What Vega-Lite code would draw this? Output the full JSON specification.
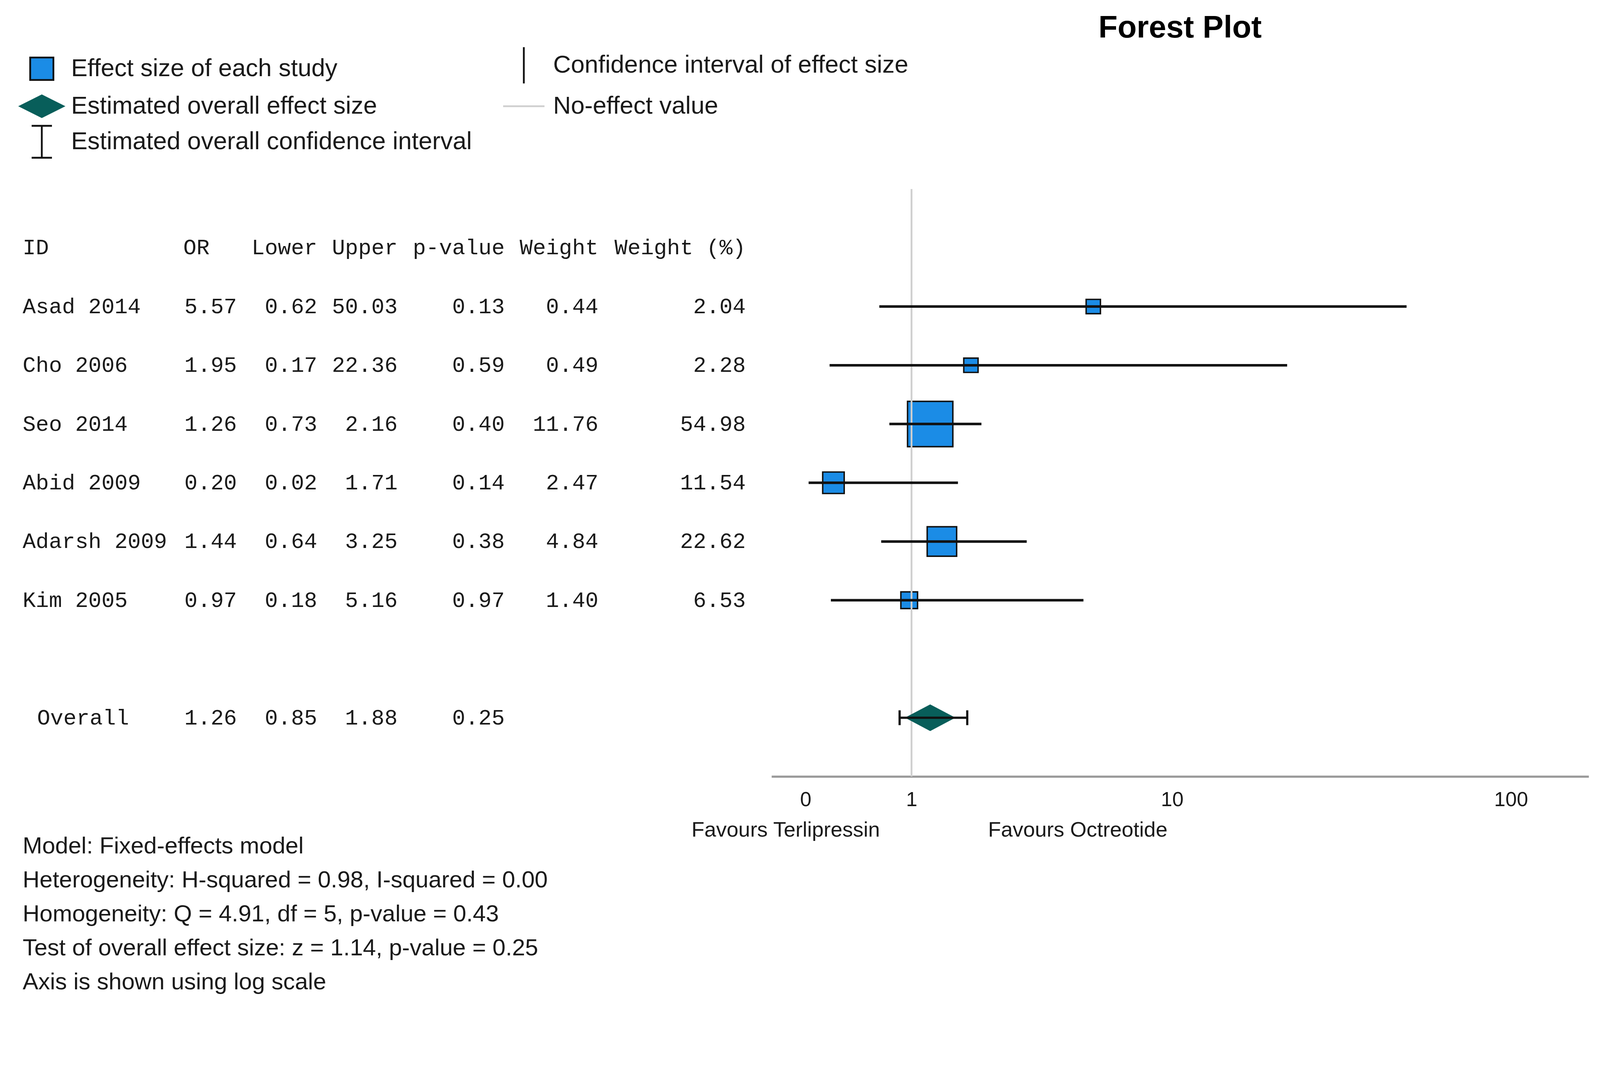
{
  "$schema": "https://vega.github.io/schema/vega-lite/v6.json",
  "background": "white",
  "padding": {"left": 58, "top": 31, "right": 12, "bottom": 0},
  "data": {"values": [
    {"study": "Asad 2014", "or": 5.57, "lower": 0.62, "upper": 50.03, "p": 0.13, "w": 0.44, "wpct": 2.04},
    {"study": "Cho 2006", "or": 1.95, "lower": 0.17, "upper": 22.36, "p": 0.59, "w": 0.49, "wpct": 2.28},
    {"study": "Seo 2014", "or": 1.26, "lower": 0.73, "upper": 2.16, "p": 0.40, "w": 11.76, "wpct": 54.98},
    {"study": "Abid 2009", "or": 0.20, "lower": 0.02, "upper": 1.71, "p": 0.14, "w": 2.47, "wpct": 11.54},
    {"study": "Adarsh 2009", "or": 1.44, "lower": 0.64, "upper": 3.25, "p": 0.38, "w": 4.84, "wpct": 22.62},
    {"study": "Kim 2005", "or": 0.97, "lower": 0.18, "upper": 5.16, "p": 0.97, "w": 1.40, "wpct": 6.53},
    {"study": "Overall", "or": 1.26, "lower": 0.85, "upper": 1.88, "p": 0.25}
  ]},
  "title": {
    "text": [
      "Model: Fixed-effects model",
      "Heterogeneity: H-squared = 0.98, I-squared = 0.00",
      "Homogeneity: Q = 4.91, df = 5, p-value = 0.43",
      "Test of overall effect size: z = 1.14, p-value = 0.25",
      "Axis is shown using log scale"
    ],
    "orient": "bottom", "anchor": "start", "frame": "bounds",
    "font": "Liberation Sans", "fontSize": 60, "fontWeight": "normal", "color": "#1a1a1a",
    "lineHeight": 87, "baseline": "top", "offset": -15
  },
  "bounds": "flush",
  "spacing": 66,
  "hconcat": [
    {
      "width": 1851,
      "height": 1504,
      "layer": [
        {
          "data": {"values": [
            {"item": "Effect size of each study"},
            {"item": "Estimated overall effect size"},
            {"item": "Estimated overall confidence interval"},
            {"item": "Confidence interval of effect size"},
            {"item": "No-effect value"}
          ]},
          "transform": [{"filter": "false"}],
          "mark": {"type": "point", "filled": true, "opacity": 1},
          "encoding": {
            "shape": {"field": "item", "type": "nominal", "legend": {"title": null},
              "scale": {"domain": ["Effect size of each study", "Estimated overall effect size", "Estimated overall confidence interval", "Confidence interval of effect size", "No-effect value"],
                "range": ["M-0.64,-0.62H0.64V0.62H-0.64Z", "M-1.3,0L0,-0.65L1.3,0L0,0.65Z", "M-0.56,-0.88H0.56M0,-0.88V0.88M-0.56,0.88H0.56", "M0,-1V1", "M-1.14,0H1.14"]}},
            "fill": {"field": "item", "type": "nominal", "legend": {"title": null},
              "scale": {"domain": ["Effect size of each study", "Estimated overall effect size", "Estimated overall confidence interval", "Confidence interval of effect size", "No-effect value"],
                "range": ["#1b8ce6", "#085e5a", "transparent", "transparent", "transparent"]}},
            "stroke": {"field": "item", "type": "nominal", "legend": {"title": null},
              "scale": {"domain": ["Effect size of each study", "Estimated overall effect size", "Estimated overall confidence interval", "Confidence interval of effect size", "No-effect value"],
                "range": ["#111111", "transparent", "#111111", "#111111", "#cfcfcf"]}}
          }
        },
        {
          "data": {"values": [{}]},
          "mark": {"type": "text", "text": "ID", "align": "left"},
          "encoding": {
            "x": {"datum": 0, "type": "quantitative", "scale": {"domain": [0, 54], "nice": false, "zero": false}, "axis": null},
            "y": {"datum": "ID", "type": "nominal", "axis": null,
              "scale": {"type": "point", "padding": 1, "domain": ["ID", "Asad 2014", "Cho 2006", "Seo 2014", "Abid 2009", "Adarsh 2009", "Kim 2005", "gap", "Overall"]}}
          }
        },
        {
          "data": {"values": [{}]},
          "mark": {"type": "text", "text": "OR", "align": "left"},
          "encoding": {"x": {"datum": 12, "type": "quantitative", "axis": null}, "y": {"datum": "ID", "type": "nominal", "axis": null}}
        },
        {
          "data": {"values": [{}]},
          "mark": {"type": "text", "text": "Lower", "align": "right"},
          "encoding": {"x": {"datum": 22, "type": "quantitative", "axis": null}, "y": {"datum": "ID", "type": "nominal", "axis": null}}
        },
        {
          "data": {"values": [{}]},
          "mark": {"type": "text", "text": "Upper", "align": "right"},
          "encoding": {"x": {"datum": 28, "type": "quantitative", "axis": null}, "y": {"datum": "ID", "type": "nominal", "axis": null}}
        },
        {
          "data": {"values": [{}]},
          "mark": {"type": "text", "text": "p-value", "align": "right"},
          "encoding": {"x": {"datum": 36, "type": "quantitative", "axis": null}, "y": {"datum": "ID", "type": "nominal", "axis": null}}
        },
        {
          "data": {"values": [{}]},
          "mark": {"type": "text", "text": "Weight", "align": "right"},
          "encoding": {"x": {"datum": 43, "type": "quantitative", "axis": null}, "y": {"datum": "ID", "type": "nominal", "axis": null}}
        },
        {
          "data": {"values": [{}]},
          "mark": {"type": "text", "text": "Weight (%)", "align": "right"},
          "encoding": {"x": {"datum": 54, "type": "quantitative", "axis": null}, "y": {"datum": "ID", "type": "nominal", "axis": null}}
        },
        {
          "transform": [{"filter": "datum.study !== 'Overall'"}],
          "mark": {"type": "text", "align": "left"},
          "encoding": {"x": {"datum": 0, "type": "quantitative", "axis": null}, "y": {"field": "study", "type": "nominal", "axis": null}, "text": {"field": "study"}}
        },
        {
          "transform": [{"filter": "datum.study === 'Overall'"}],
          "mark": {"type": "text", "align": "left", "dx": 37},
          "encoding": {"x": {"datum": 0, "type": "quantitative", "axis": null}, "y": {"field": "study", "type": "nominal", "axis": null}, "text": {"field": "study"}}
        },
        {
          "mark": {"type": "text", "align": "right"},
          "encoding": {"x": {"datum": 16, "type": "quantitative", "axis": null}, "y": {"field": "study", "type": "nominal", "axis": null}, "text": {"field": "or", "type": "quantitative", "format": ".2f"}}
        },
        {
          "mark": {"type": "text", "align": "right"},
          "encoding": {"x": {"datum": 22, "type": "quantitative", "axis": null}, "y": {"field": "study", "type": "nominal", "axis": null}, "text": {"field": "lower", "type": "quantitative", "format": ".2f"}}
        },
        {
          "mark": {"type": "text", "align": "right"},
          "encoding": {"x": {"datum": 28, "type": "quantitative", "axis": null}, "y": {"field": "study", "type": "nominal", "axis": null}, "text": {"field": "upper", "type": "quantitative", "format": ".2f"}}
        },
        {
          "mark": {"type": "text", "align": "right"},
          "encoding": {"x": {"datum": 36, "type": "quantitative", "axis": null}, "y": {"field": "study", "type": "nominal", "axis": null}, "text": {"field": "p", "type": "quantitative", "format": ".2f"}}
        },
        {
          "transform": [{"filter": "isValid(datum.w)"}],
          "mark": {"type": "text", "align": "right"},
          "encoding": {"x": {"datum": 43, "type": "quantitative", "axis": null}, "y": {"field": "study", "type": "nominal", "axis": null}, "text": {"field": "w", "type": "quantitative", "format": ".2f"}}
        },
        {
          "transform": [{"filter": "isValid(datum.wpct)"}],
          "mark": {"type": "text", "align": "right"},
          "encoding": {"x": {"datum": 54, "type": "quantitative", "axis": null}, "y": {"field": "study", "type": "nominal", "axis": null}, "text": {"field": "wpct", "type": "quantitative", "format": ".2f"}}
        }
      ]
    },
    {
      "width": 2092,
      "height": 1504,
      "title": {"text": "Forest Plot", "font": "Liberation Sans", "fontSize": 80, "fontWeight": "bold", "color": "#000000", "anchor": "middle", "frame": "group", "baseline": "alphabetic", "offset": 306},
      "layer": [
        {
          "transform": [{"filter": "datum.study !== 'Overall'"}],
          "mark": {"type": "point", "shape": "square", "filled": true, "fill": "#1b8ce6", "stroke": "#111111", "strokeWidth": 3.7, "opacity": 1},
          "encoding": {
            "x": {"field": "or", "type": "quantitative", "title": null,
              "scale": {"type": "symlog", "constant": 1, "domain": [-0.25, 167], "nice": false, "zero": false},
              "axis": {"title": null, "values": [0, 1, 10, 100], "format": "d", "grid": false, "ticks": false, "tickSize": 0,
                "domainColor": "#9a9a9a", "domainWidth": 5.6, "labelFont": "Liberation Sans", "labelFontSize": 52, "labelColor": "#1a1a1a",
                "labelPadding": 34, "labelFlush": false, "labelOverlap": false}},
            "y": {"field": "study", "type": "nominal", "axis": null,
              "scale": {"type": "point", "padding": 1, "domain": ["ID", "Asad 2014", "Cho 2006", "Seo 2014", "Abid 2009", "Adarsh 2009", "Kim 2005", "gap", "Overall"]}},
            "size": {"field": "wpct", "type": "quantitative", "legend": null,
              "scale": {"domain": [4.5, 55], "range": [1340, 13460], "clamp": true, "zero": false}}
          }
        },
        {
          "data": {"values": [{}]},
          "mark": {"type": "rule", "color": "#cfcfcf", "strokeWidth": 4.6},
          "encoding": {"x": {"datum": 1, "type": "quantitative", "title": null}}
        },
        {
          "transform": [{"filter": "datum.study !== 'Overall'"}],
          "mark": {"type": "rule", "color": "#111111", "strokeWidth": 6.5},
          "encoding": {
            "x": {"field": "lower", "type": "quantitative", "title": null},
            "x2": {"field": "upper"},
            "y": {"field": "study", "type": "nominal", "axis": null}
          }
        },
        {
          "transform": [{"filter": "datum.study === 'Overall'"}],
          "mark": {"type": "point", "shape": "M-1,0L0,-0.53L1,0L0,0.53Z", "filled": true, "color": "#085e5a", "size": 16661, "opacity": 1},
          "encoding": {
            "x": {"field": "or", "type": "quantitative", "title": null},
            "y": {"field": "study", "type": "nominal", "axis": null}
          }
        },
        {
          "transform": [{"filter": "datum.study === 'Overall'"}],
          "mark": {"type": "errorbar", "ticks": {"opacity": 1, "color": "#111111"}, "size": 38, "thickness": 5.6, "color": "#111111"},
          "encoding": {
            "x": {"field": "lower", "type": "quantitative", "title": null},
            "x2": {"field": "upper"},
            "y": {"field": "study", "type": "nominal", "axis": null}
          }
        },
        {
          "data": {"values": [{}]},
          "mark": {"type": "text", "text": "Favours Terlipressin", "align": "right", "baseline": "middle", "dx": -81, "dy": 138, "font": "Liberation Sans", "fontSize": 54, "color": "#1a1a1a"},
          "encoding": {"x": {"datum": 1, "type": "quantitative", "title": null}, "y": {"value": "height"}}
        },
        {
          "data": {"values": [{}]},
          "mark": {"type": "text", "text": "Favours Octreotide", "align": "left", "baseline": "middle", "dx": 196, "dy": 138, "font": "Liberation Sans", "fontSize": 54, "color": "#1a1a1a"},
          "encoding": {"x": {"datum": 1, "type": "quantitative", "title": null}, "y": {"value": "height"}}
        }
      ]
    }
  ],
  "config": {
    "view": {"stroke": null},
    "text": {"font": "Liberation Mono", "fontSize": 56, "color": "#1a1a1a", "baseline": "middle"},
    "legend": {
      "orient": "none", "legendX": 0, "legendY": -366, "columns": 2, "padding": 0,
      "symbolSize": 8623, "symbolStrokeWidth": 4.6, "symbolOpacity": 1,
      "labelFont": "Liberation Sans", "labelFontSize": 63, "labelColor": "#1a1a1a", "labelLimit": 3000,
      "labelOffset": 26, "rowPadding": 0, "columnPadding": 69
    }
  }
}
